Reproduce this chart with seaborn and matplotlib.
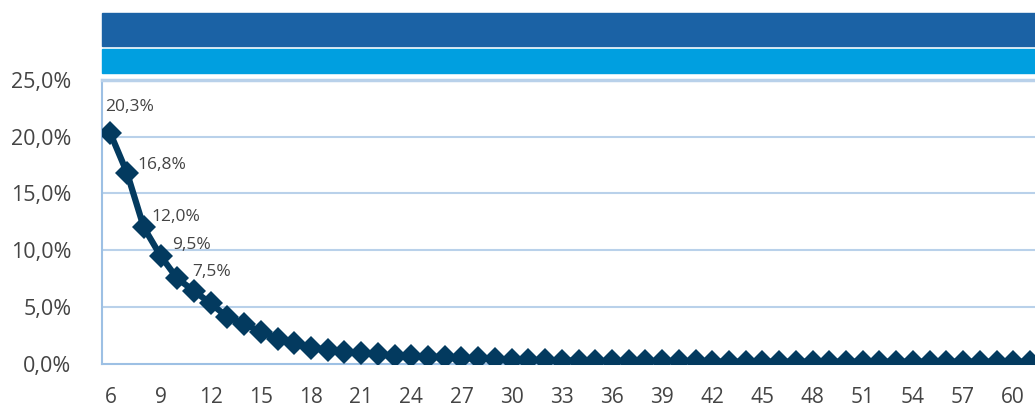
import matplotlib
matplotlib.use("Agg")
import matplotlib.pyplot as plt
from matplotlib.patches import Rectangle
from matplotlib.ticker import FixedLocator, FuncFormatter
import seaborn as sns
import pandas as pd

# ---- data ----
ages = list(range(6, 62))
share = [20.3, 16.8, 12.0, 9.5, 7.5, 6.4, 5.3, 4.1, 3.5, 2.8,
         2.2, 1.8, 1.4, 1.2, 1.0, 0.9, 0.8, 0.7, 0.65, 0.6,
         0.55, 0.5, 0.45, 0.4, 0.35, 0.3, 0.3, 0.25, 0.25, 0.2,
         0.2, 0.2, 0.2, 0.2, 0.2, 0.2, 0.15, 0.15, 0.15, 0.15,
         0.15, 0.15, 0.15, 0.15, 0.15, 0.15, 0.15, 0.15, 0.15, 0.15,
         0.15, 0.15, 0.15, 0.15, 0.15, 0.15]
labeled_ages = [6, 7, 8, 9, 10]
major_ticks = list(range(6, 61, 3))
y_ticks = [0, 5, 10, 15, 20, 25]

df = pd.DataFrame({"age": ages, "share": share})

sns.set_style("white")
plt.rcParams["font.family"] = ["Open Sans", "DejaVu Sans"]

W, H = 1035, 411
fig = plt.figure(figsize=(W / 100, H / 100), dpi=100)
ax_left, ax_top, ax_bottom = 102, 80, 363.5
ax = fig.add_axes([ax_left / W, (H - ax_bottom) / H, (W - ax_left) / W, (ax_bottom - ax_top) / H])

navy = "#033a5f"
grid_c = "#b9d1ea"
axis_c = "#9dc0e4"
text_c = "#444444"

sns.lineplot(data=df, x="age", y="share", ax=ax, color=navy, linewidth=4.5,
             marker="D", markersize=12.5, markeredgewidth=0, zorder=5)

ax.set_xlim(5.5, 5.5 + (W - ax_left) / 16.72)
ax.set_ylim(0, 25)
ax.set_xlabel("")
ax.set_ylabel("")

ax.xaxis.set_major_locator(FixedLocator(major_ticks))
ax.xaxis.set_minor_locator(FixedLocator([a - 0.5 for a in ages] + [ages[-1] + 0.5]))
ax.yaxis.set_major_locator(FixedLocator(y_ticks))
ax.yaxis.set_major_formatter(FuncFormatter(lambda v, p: f"{v:.1f}%".replace(".", ",")))

ax.tick_params(axis="x", which="major", length=0, pad=17, labelsize=15, labelcolor=text_c)
ax.tick_params(axis="x", which="minor", length=8, width=1.2, color=axis_c, direction="out")
ax.tick_params(axis="y", which="major", length=0, pad=22, labelsize=15.5, labelcolor=text_c)

for y in y_ticks[1:-1]:
    ax.axhline(y, color=grid_c, linewidth=1.5, zorder=1)

for s in ["left", "bottom", "top"]:
    ax.spines[s].set_color(axis_c)
    ax.spines[s].set_linewidth(1.5)
ax.spines["right"].set_visible(False)
ax.spines["top"].set_color(grid_c)
ax.spines["top"].set_linewidth(2.5)

offsets = {6: (-5, 26), 7: (10, 8), 8: (8, 10), 9: (12, 11), 10: (15, 6)}
for a in labeled_ages:
    v = share[ages.index(a)]
    ax.annotate(f"{v:.1f}%".replace(".", ","), (a, v), xytext=offsets[a],
                textcoords="offset pixels", ha="left", va="center",
                fontsize=12.5, color=text_c, zorder=6)

# header bands
fig.add_artist(Rectangle((ax_left / W, (H - 46) / H), 1 - ax_left / W, 33 / H,
                         transform=fig.transFigure, color="#1b62a5", zorder=0))
fig.add_artist(Rectangle((ax_left / W, (H - 73) / H), 1 - ax_left / W, 24 / H,
                         transform=fig.transFigure, color="#009fe0", zorder=0))

fig.savefig("out.png", dpi=100)
